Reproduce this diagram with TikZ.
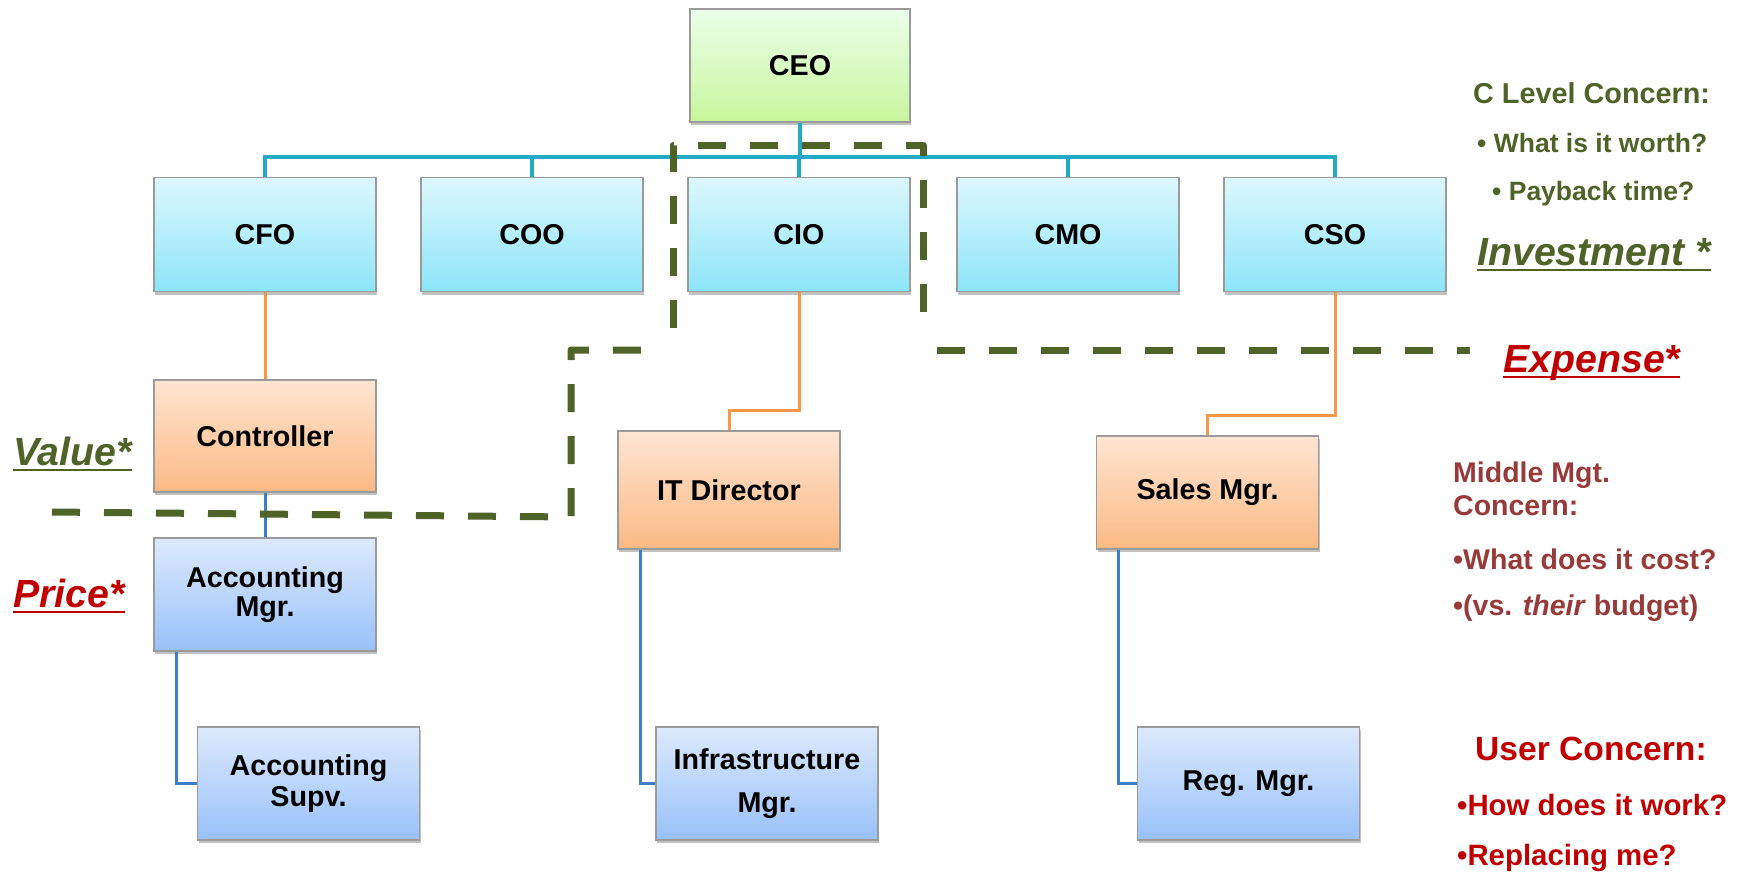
\documentclass[tikz,border=0pt]{standalone}
\usepackage{fontspec}
\setmainfont{Liberation Sans}
\usetikzlibrary{shadows,calc}

\definecolor{olivetxt}{HTML}{4F6228}
\definecolor{redtxt}{HTML}{C00000}
\definecolor{browntxt}{HTML}{983A3A}
\definecolor{boxline}{HTML}{9A9A9A}
\definecolor{busline}{HTML}{22A9C6}
\definecolor{orangeline}{HTML}{F79646}
\definecolor{blueline}{HTML}{3E7EC6}

\newcommand\boxfont{\fontsize{28.7}{31}\selectfont\bfseries}
\newcommand\headfont{\fontsize{28.8}{32}\selectfont\bfseries}
\newcommand\notefont{\fontsize{26.5}{30}\selectfont\bfseries}
\newcommand\midfont{\fontsize{28.5}{32}\selectfont\bfseries}
\newcommand\userfont{\fontsize{33.6}{36}\selectfont\bfseries}
\newcommand\userbullfont{\fontsize{29.4}{32}\selectfont\bfseries}
\newcommand\tagfont{\fontsize{39.3}{42}\selectfont\bfseries\itshape}

\tikzset{
  box/.style={draw=boxline, line width=1.5pt, align=center, font=\boxfont,
    minimum width=222pt, minimum height=114pt, inner sep=2pt,
    drop shadow={shadow xshift=1pt, shadow yshift=-3pt, opacity=0.35, fill=black!70}},
  greenbox/.style={box, top color=green!8!white, bottom color={rgb,255:red,200;green,245;blue,156}},
  cyanbox/.style={box, top color={rgb,255:red,221;green,247;blue,253}, bottom color={rgb,255:red,140;green,229;blue,249}},
  orangebox/.style={box, top color={rgb,255:red,253;green,229;blue,211}, bottom color={rgb,255:red,251;green,185;blue,131}},
  bluebox/.style={box, top color={rgb,255:red,221;green,233;blue,252}, bottom color={rgb,255:red,152;green,193;blue,249}},
  buslink/.style={draw=busline, line width=4pt},
  orangelink/.style={draw=orangeline, line width=3pt},
  bluelink/.style={draw=blueline, line width=3pt},
  bound/.style={draw=olivetxt, line width=7pt, dash pattern=on 28pt off 24pt, line join=round},
  lbl/.style={anchor=base west, inner sep=0pt},
  uline/.style={line width=2.5pt},
}

\begin{document}
\begin{tikzpicture}[x=1pt,y=-1pt]
\useasboundingbox (0,0) rectangle (1744,872);

% ---- boxes ----
\node[greenbox, minimum width=220pt, minimum height=113pt] (ceo) at (800,65.5) {CEO};

\node[cyanbox] (cfo) at (265,234.5) {CFO};
\node[cyanbox] (coo) at (532,234.5) {COO};
\node[cyanbox] (cio) at (799,234.5) {CIO};
\node[cyanbox] (cmo) at (1068,234.5) {CMO};
\node[cyanbox] (cso) at (1335,234.5) {CSO};

\node[orangebox, minimum height=112pt] (ctrl) at (265,436) {Controller};
\node[orangebox, minimum height=118pt] (itd) at (729,490) {IT Director};
\node[orangebox, minimum height=113pt] (sales) at (1207.5,492.5) {Sales Mgr.};

\node[bluebox, minimum height=113pt] (accmgr) at (265,594.5) {Accounting\\[-2pt]Mgr.};
\node[bluebox, minimum height=113pt] (accsupv) at (308.5,783.5) {Accounting\\[0pt]Supv.};
\node[bluebox, minimum height=113pt] (infra) at (767,783.5) {Infrastructure\\[12pt]Mgr.};
\node[bluebox, minimum height=113pt] (reg) at (1248.5,783.5) {Reg. Mgr.};

% ---- connectors ----
\coordinate (bus) at (0,157);
\coordinate (itbend) at (0,410);
\coordinate (salesbend) at (0,415);

\draw[buslink] (ceo.south) -- (ceo.south |- bus);
\draw[buslink] (cfo.north) -- (cfo.north |- bus) -- (cso.north |- bus) -- (cso.north);
\draw[buslink] (coo.north) -- (coo.north |- bus);
\draw[buslink] (cio.north) -- (cio.north |- bus);
\draw[buslink] (cmo.north) -- (cmo.north |- bus);

\draw[orangelink] (cfo.south) -- (ctrl.north);
\draw[orangelink] (cio.south) -- (cio.south |- itbend) -| (itd.north);
\draw[orangelink] (cso.south) -- (cso.south |- salesbend) -| (sales.north);

\draw[bluelink] (ctrl.south) -- (accmgr.north);
\draw[bluelink] ($(accmgr.south west)+(23,0)$) |- (accsupv.west);
\draw[bluelink] ($(itd.south west)+(23,0)$) |- (infra.west);
\draw[bluelink] ($(sales.south west)+(23,0)$) |- (reg.west);

% ---- dashed boundaries ----
\coordinate (va) at (52,512);
\coordinate (vb) at (571,517);
\coordinate (vc) at (571,350);
\coordinate (vd) at (655,350);
\draw[bound] (va) -- (vb) -- (vc) -- (vd);

\coordinate (ia) at (673,328);
\coordinate (ib) at (673,145);
\coordinate (ic) at (923,145);
\coordinate (id) at (923,328);
\draw[bound] (ia) -- (ib) -- (ic) -- (id);

\coordinate (ea) at (937,350);
\coordinate (eb) at (1470,350);
\draw[bound] (ea) -- (eb);

% ---- C level notes ----
\node[lbl, text=olivetxt, font=\headfont] (clevel) at (1473,103) {C Level Concern:};
\node[lbl, text=olivetxt, font=\notefont] (cworth) at (1477,152) {• What is it worth?};
\node[lbl, text=olivetxt, font=\notefont] (cpay) at (1492,200) {• Payback time?};

\node[lbl, text=olivetxt, font=\tagfont] (inv) at (1477,265) {Investment *};
\draw[uline, olivetxt] ($(inv.base west)+(0,5)$) -- ($(inv.base east)+(0,5)$);

\node[lbl, text=redtxt, font=\tagfont] (exp) at (1503,372) {Expense*};
\draw[uline, redtxt] ($(exp.base west)+(0,5)$) -- ($(exp.base east)+(0,5)$);

\node[lbl, text=olivetxt, font=\tagfont] (val) at (13,465) {Value*};
\draw[uline, olivetxt] ($(val.base west)+(0,5)$) -- ($(val.base east)+(0,5)$);

\node[lbl, text=redtxt, font=\tagfont] (price) at (13,607) {Price*};
\draw[uline, redtxt] ($(price.base west)+(0,5)$) -- ($(price.base east)+(0,5)$);

% ---- middle management notes ----
\node[lbl, text=browntxt, font=\midfont] (mid1) at (1453,482) {Middle Mgt.};
\node[lbl, text=browntxt, font=\midfont] (mid2) at (1453,515) {Concern:};
\node[lbl, text=browntxt, font=\midfont] (mid3) at (1453,569) {•What does it cost?};
\node[lbl, text=browntxt, font=\midfont] (mid4) at (1453,615) {•(vs. \textit{their} budget)};

% ---- user notes ----
\node[lbl, text=redtxt, font=\userfont] (user1) at (1475,760) {User Concern:};
\node[lbl, text=redtxt, font=\userbullfont] (user2) at (1457,815) {•How does it work?};
\node[lbl, text=redtxt, font=\userbullfont] (user3) at (1457,865) {•Replacing me?};
\end{tikzpicture}
\end{document}
